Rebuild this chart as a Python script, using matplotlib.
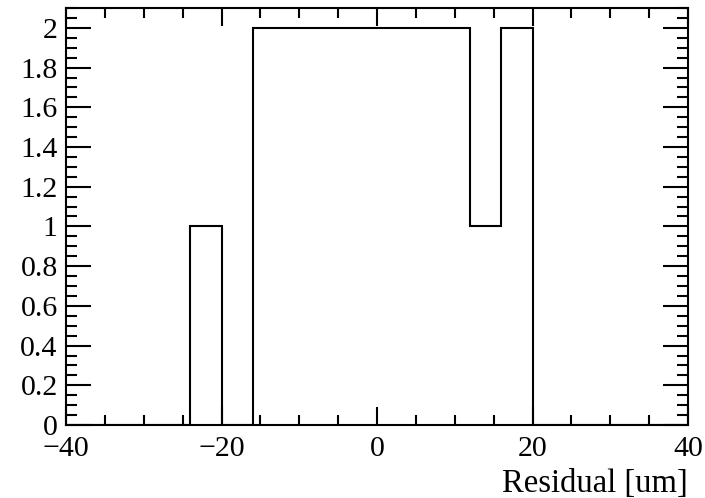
import numpy as np
import matplotlib
matplotlib.use("Agg")
import matplotlib.pyplot as plt
from matplotlib.ticker import MultipleLocator, FuncFormatter

# Histogram of residuals: 20 bins of width 4 um between -40 and 40
bin_edges = list(range(-40, 41, 4))
counts = [0, 0, 0, 0, 1, 0, 2, 2, 2, 2, 2, 2, 2, 1, 2, 0, 0, 0, 0, 0]
x_label = "Residual [um]"

plt.rcParams["font.family"] = ["Liberation Serif", "DejaVu Serif"]
plt.rcParams["font.size"] = 21.5

fig = plt.figure(figsize=(7.05, 4.98), dpi=100)
ax = fig.add_axes([66 / 705, 73 / 498, 622 / 705, 417 / 498])

ax.stairs(counts, bin_edges, color="black", linewidth=1.5, baseline=0)

ax.set_xlim(-40, 40)
ax.set_ylim(0, 1.05 * max(counts))

ax.xaxis.set_major_locator(MultipleLocator(20))
ax.xaxis.set_minor_locator(MultipleLocator(5))
ax.yaxis.set_major_locator(MultipleLocator(0.2))
ax.yaxis.set_minor_locator(MultipleLocator(0.05))
ax.yaxis.set_major_formatter(FuncFormatter(lambda v, p: f"{v:g}"))
ax.xaxis.set_major_formatter(FuncFormatter(lambda v, p: f"{v:g}".replace("-", "\u2212")))

ax.tick_params(which="both", direction="in", top=True, right=True, width=1.5, colors="black")
ax.tick_params(axis="x", which="major", length=13, pad=8)
ax.tick_params(axis="x", which="minor", length=7)
ax.tick_params(axis="y", which="major", length=18, pad=6)
ax.tick_params(axis="y", which="minor", length=8)

for s in ax.spines.values():
    s.set_linewidth(1.5)

ax.set_xlabel(x_label, fontsize=23.5)
ax.xaxis.set_label_coords(1.0, -0.1415)
ax.xaxis.label.set_horizontalalignment("right")
ax.xaxis.label.set_verticalalignment("center")

fig.savefig("out.png", dpi=100)
